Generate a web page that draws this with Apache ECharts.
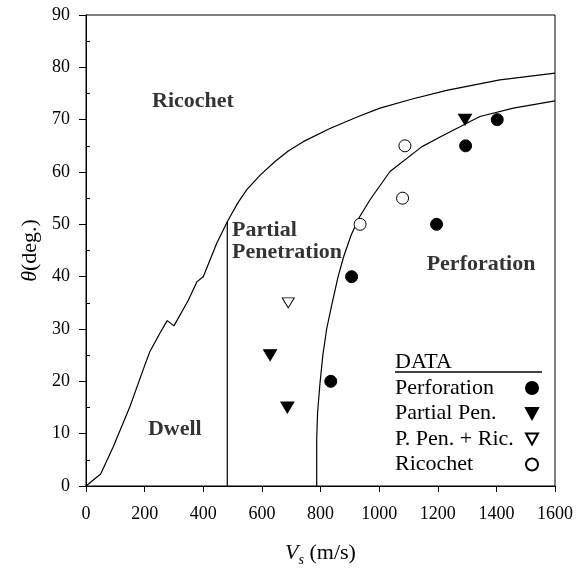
<!DOCTYPE html>
<html>
<head>
<meta charset="utf-8">
<script src="https://cdn.jsdelivr.net/npm/echarts@6/dist/echarts.min.js"></script>
<style>
html,body{margin:0;padding:0;background:#fff;}
#chart{width:576px;height:569px;}
</style>
</head>
<body>
<div id="chart"></div>
<script>
// ---- Data ----
const xTicks = [0, 200, 400, 600, 800, 1000, 1200, 1400, 1600];
const yTicks = [0, 10, 20, 30, 40, 50, 60, 70, 80, 90];

// Ricochet / Dwell boundary (upper curve)
const ricochetBoundary = [[0,0],[50,2.3],[93,7.5],[150,15.2],[200,23],[218,25.7],[252,29.2],[277,31.6],[300,30.6],[349,35.5],[378,39],[400,40],[446,46.4],[482,50.5],[489,51.2],[518,54.1],[548,56.6],[594,59.4],[645,62],[690,64],[741,65.8],[832,68.3],[929,70.6],[1003,72.2],[1110,73.9],[1230,75.6],[1412,77.6],[1600,78.9]];
// Dwell / Partial penetration boundary (vertical line)
const dwellBoundary = [[482,0],[482,50.5]];
// Partial penetration / Perforation boundary (lower curve)
const perforationBoundary = [[787,0],[787,8.8],[790,14],[798,19.5],[808,25],[821,30],[838,34.5],[860,40],[880,44],[905,48],[932,51.3],[969,54.7],[1037,60.1],[1145,64.8],[1208,66.7],[1299,69.3],[1344,70.6],[1458,72.2],[1600,73.6]];

const perforation = [[835,20],[906,40],[1196,50],[1295,65],[1403,70]];
const partialPen = [[628,25],[687,15],[1293,70]];
const pPenRic = [[690,35]];
const ricochet = [[935,50],[1080,55],[1088,65]];

const legendNames = ['Perforation', 'Partial Pen.', 'P. Pen. + Ric.', 'Ricochet'];

const regionLabels = [
  {name: 'Ricochet', value: [225, 73.5]},
  {name: 'Partial\nPenetration', value: [498, 46.8]},
  {name: 'Perforation', value: [1162, 42.3]},
  {name: 'Dwell', value: [211, 10.8]}
];

const FONT = 'Liberation Serif';
const DOWN_TRI = 'path://M0,0L10,0L5,9Z';

const chart = echarts.init(document.getElementById('chart'), null, {renderer: 'canvas'});

const curveStyle = {color: '#000', width: 1.2};
function curve(name, data) {
  return {
    name: name, type: 'line', data: data, showSymbol: false, symbol: 'none',
    lineStyle: curveStyle, itemStyle: {color: '#000'}, silent: true, animation: false, z: 2
  };
}

const option = {
  animation: false,
  backgroundColor: '#fff',
  textStyle: {fontFamily: FONT, color: '#000'},
  grid: {left: 86, right: 21, top: 15, bottom: 83, show: true, borderColor: '#000', borderWidth: 1,
    backgroundColor: 'transparent', containLabel: false, outerBoundsMode: 'none'},
  xAxis: {
    type: 'value', min: 0, max: 1600, interval: 200,
    name: '{i|V}{s|s} (m/s)', nameLocation: 'middle', nameGap: 53,
    nameTextStyle: {fontFamily: FONT, fontSize: 22, color: '#000',
      rich: {i: {fontFamily: FONT, fontSize: 22, fontStyle: 'italic', color: '#000'},
             s: {fontFamily: FONT, fontSize: 14, fontStyle: 'italic', color: '#000', padding: [14, 0, 0, 0]}}},
    axisLine: {show: true, lineStyle: {color: '#000', width: 1}},
    axisTick: {show: true, length: 6, lineStyle: {color: '#000', width: 1}},
    axisLabel: {fontFamily: FONT, fontSize: 18, color: '#000', margin: 19,
      formatter: v => xTicks.includes(v) ? String(v) : ''},
    splitLine: {show: false}
  },
  yAxis: [{
    type: 'value', min: 0, max: 90, interval: 10,
    name: '{i|θ}(deg.)', nameLocation: 'middle', nameGap: 45, nameRotate: 90,
    nameTextStyle: {fontFamily: FONT, fontSize: 22, color: '#000',
      rich: {i: {fontFamily: FONT, fontSize: 22, fontStyle: 'italic', color: '#000'}}},
    axisLine: {show: true, lineStyle: {color: '#000', width: 1}},
    axisTick: {show: true, length: 7, lineStyle: {color: '#000', width: 1}},
    axisLabel: {fontFamily: FONT, fontSize: 18, color: '#000', margin: 16,
      formatter: v => yTicks.includes(v) ? String(v) : ''},
    splitLine: {show: false}
  }, {
    type: 'value', min: 0, max: 90, interval: 10, position: 'left',
    axisLine: {show: false},
    axisTick: {show: false, inside: true},
    minorTick: {show: true, splitNumber: 2, length: 4, lineStyle: {color: '#000', width: 1}},
    axisLabel: {show: false},
    splitLine: {show: false}
  }],
  legend: {
    data: [
      {name: legendNames[0]},
      {name: legendNames[1], icon: DOWN_TRI},
      {name: legendNames[2], icon: DOWN_TRI},
      {name: legendNames[3]}
    ],
    orient: 'vertical', left: 390, top: 372, align: 'right',
    itemWidth: 12, itemHeight: 12, itemGap: 3.5,
    formatter: n => '{a|' + n + '}',
    textStyle: {fontFamily: FONT, fontSize: 22, color: '#000', lineHeight: 22,
      rich: {a: {fontFamily: FONT, fontSize: 22, color: '#000', width: 126, align: 'left', lineHeight: 22}}},
    selectedMode: false
  },
  graphic: [
    {type: 'text', left: 395, top: 351, style: {text: 'DATA', fontFamily: FONT, fontSize: 22, fill: '#000'}},
    {type: 'line', shape: {x1: 395, y1: 372, x2: 542, y2: 372}, style: {stroke: '#000', lineWidth: 1.6}}
  ],
  series: [
    curve('ricochetBoundary', ricochetBoundary),
    curve('dwellBoundary', dwellBoundary),
    curve('perforationBoundary', perforationBoundary),
    {
      name: 'regions', type: 'scatter', data: regionLabels, symbolSize: 0.1, silent: true, z: 3,
      label: {show: true, position: 'right', distance: 0, formatter: p => p.name,
        fontFamily: FONT, fontSize: 22, fontWeight: 'bold', color: '#000', lineHeight: 22, align: 'left'}
    },
    {
      name: legendNames[0], type: 'scatter', data: perforation, symbol: 'circle', symbolSize: 12,
      itemStyle: {color: '#000', borderColor: '#000', borderWidth: 1, opacity: 1}, z: 5
    },
    {
      name: legendNames[1], type: 'scatter', data: partialPen, symbol: 'triangle', symbolSize: [13, 11], symbolRotate: 180,
      itemStyle: {color: '#000', borderColor: '#000', borderWidth: 1, opacity: 1}, z: 5
    },
    {
      name: legendNames[2], type: 'scatter', data: pPenRic, symbol: 'triangle', symbolSize: [12, 10], symbolRotate: 180,
      itemStyle: {color: '#fff', borderColor: '#000', borderWidth: 1, opacity: 1}, z: 5
    },
    {
      name: legendNames[3], type: 'scatter', data: ricochet, symbol: 'circle', symbolSize: 12,
      itemStyle: {color: '#fff', borderColor: '#000', borderWidth: 1, opacity: 1}, z: 5
    }
  ]
};
chart.setOption(option);
</script>
</body>
</html>
